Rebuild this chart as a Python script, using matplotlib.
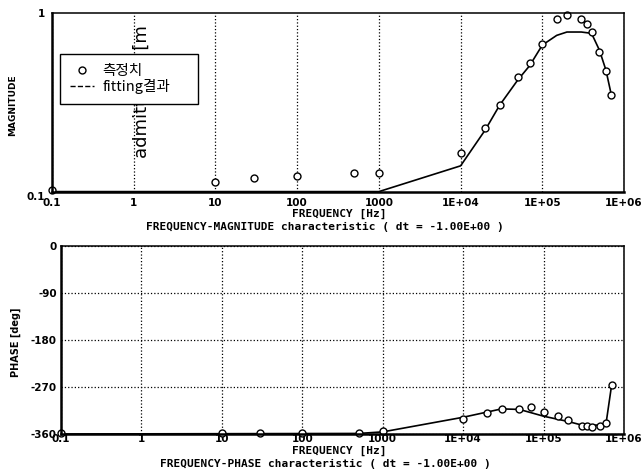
import matplotlib
matplotlib.use("Agg")
import matplotlib.pyplot as plt
from matplotlib.lines import Line2D

# measured points (측정치)
freq_meas = [0.1, 10, 30, 100, 500, 1000, 1e4, 2e4, 3e4, 5e4, 7e4, 1e5,
             1.5e5, 2e5, 3e5, 3.5e5, 4e5, 5e5, 6e5, 7e5]
mag_meas = [0.102, 0.114, 0.120, 0.123, 0.127, 0.128, 0.166, 0.229, 0.305, 0.437,
            0.525, 0.668, 0.924, 0.975, 0.924, 0.866, 0.784, 0.605, 0.472, 0.348]
phase_meas = [-358, -358, -358, -358, -359, -355, -331, -320, -313, -313,
              -309, -318, -325, -334, -344, -344, -346, -344, -339, -267]

# fitting result (fitting결과)
freq_fit_mag = [0.1, 1000, 1e4, 2e4, 3e4, 5e4, 7e4, 1e5, 1.5e5, 2e5, 3e5, 4e5, 5e5, 6e5, 7e5]
mag_fit = [0.1005, 0.1005, 0.140, 0.222, 0.305, 0.422, 0.508, 0.662, 0.750, 0.783,
           0.783, 0.770, 0.620, 0.480, 0.348]
freq_fit_phase = [0.1, 500, 1000, 1e4, 3e4, 5e4, 1e5, 2e5, 3e5, 5e5, 6e5, 7e5]
phase_fit = [-360, -359, -356, -328, -312, -313, -326, -336, -343, -343, -338, -267]

xticks = [0.1, 1, 10, 100, 1000, 1e4, 1e5, 1e6]
xticklabels = ["0.1", "1", "10", "100", "1000", "1E+04", "1E+05", "1E+06"]
phase_ticks = [0, -90, -180, -270, -360]

bold = dict(family="DejaVu Sans", weight="bold")
mono = dict(family="DejaVu Sans Mono", weight="bold")

fig = plt.figure(figsize=(6.43, 4.73), dpi=100)
ax1 = fig.add_axes([0.0809, 0.5941, 0.8896, 0.3784])
ax2 = fig.add_axes([0.0949, 0.0825, 0.8756, 0.3977])


def style_axis(ax):
    ax.set_xscale("log")
    ax.set_xlim(0.1, 1e6)
    ax.set_xticks(xticks)
    ax.set_xticklabels(xticklabels, fontsize=7.5, **bold)
    ax.minorticks_off()
    ax.tick_params(length=0)
    ax.grid(True, which="major", axis="x", color="black", linestyle=":", linewidth=0.9)
    for side in ["left", "bottom"]:
        ax.spines[side].set_linewidth(1.8)
    for side in ["top", "right"]:
        ax.spines[side].set_linewidth(1.1)


# ---- magnitude ----
style_axis(ax1)
ax1.set_yscale("log")
ax1.set_ylim(0.1, 1)
ax1.set_yticks([0.1, 1])
ax1.set_yticklabels(["0.1", "1"], fontsize=7.5, **bold)
ax1.yaxis.set_minor_locator(matplotlib.ticker.NullLocator())
ax1.tick_params(axis="x", pad=4)
ax1.tick_params(axis="y", pad=5)
ax1.get_yticklabels()[0].set_va("top")
ax1.plot(freq_fit_mag, mag_fit, color="black", linewidth=1.2, clip_on=False)
ax1.plot(freq_meas, mag_meas, linestyle="none", marker="o", markersize=5,
         markerfacecolor="white", markeredgecolor="black", markeredgewidth=1.0, clip_on=False)
fig.text(0.019, 0.778, "MAGNITUDE", rotation=90, ha="center", va="center",
         fontsize=6.5, **bold)

ax1.text(1.25, 0.19, "admittance [m", transform=ax1.get_xaxis_transform(),
         rotation=90, fontsize=13, ha="center", va="bottom", zorder=2)

handles = [
    Line2D([0], [0], linestyle="none", marker="o", markersize=5,
           markerfacecolor="white", markeredgecolor="black"),
    Line2D([0], [0], color="black", linestyle="--", linewidth=1),
]
leg = ax1.legend(handles, ["측정치", "fitting결과"], loc="upper left",
                 bbox_to_anchor=(0.014, 0.503, 0.242, 0.268), mode="expand",
                 frameon=True, fancybox=False, edgecolor="black", framealpha=1,
                 borderaxespad=0,
                 prop={"family": ["Noto Sans CJK KR", "DejaVu Sans"], "size": 10.5},
                 handlelength=1.6, borderpad=0.7, labelspacing=0.05,
                 handletextpad=0.6)
leg.get_frame().set_linewidth(1.0)
leg.set_zorder(5)

fig.text(0.527, 0.548, "FREQUENCY [Hz]", ha="center", va="center", fontsize=8, **mono)
fig.text(0.506, 0.520, "FREQUENCY-MAGNITUDE characteristic ( dt = -1.00E+00 )",
         ha="center", va="center", fontsize=8, **mono)

# ---- phase ----
style_axis(ax2)
ax2.set_ylim(-360, 0)
ax2.set_yticks(phase_ticks)
ax2.set_yticklabels([str(t) for t in phase_ticks], fontsize=7.5, **bold)
ax2.grid(True, axis="y", color="black", linestyle=":", linewidth=0.9)
ax2.tick_params(axis="x", pad=0)
ax2.tick_params(axis="y", pad=3)
ax2.plot(freq_fit_phase, phase_fit, color="black", linewidth=1.2, clip_on=False)
ax2.plot(freq_meas, phase_meas, linestyle="none", marker="o", markersize=5,
         markerfacecolor="white", markeredgecolor="black", markeredgewidth=1.0, clip_on=False)
fig.text(0.025, 0.277, "PHASE [deg]", rotation=90, ha="center", va="center",
         fontsize=7, **bold)

fig.text(0.527, 0.047, "FREQUENCY [Hz]", ha="center", va="center", fontsize=8, **mono)
fig.text(0.506, 0.019, "FREQUENCY-PHASE characteristic ( dt = -1.00E+00 )",
         ha="center", va="center", fontsize=8, **mono)

fig.savefig("out.png", dpi=100)
